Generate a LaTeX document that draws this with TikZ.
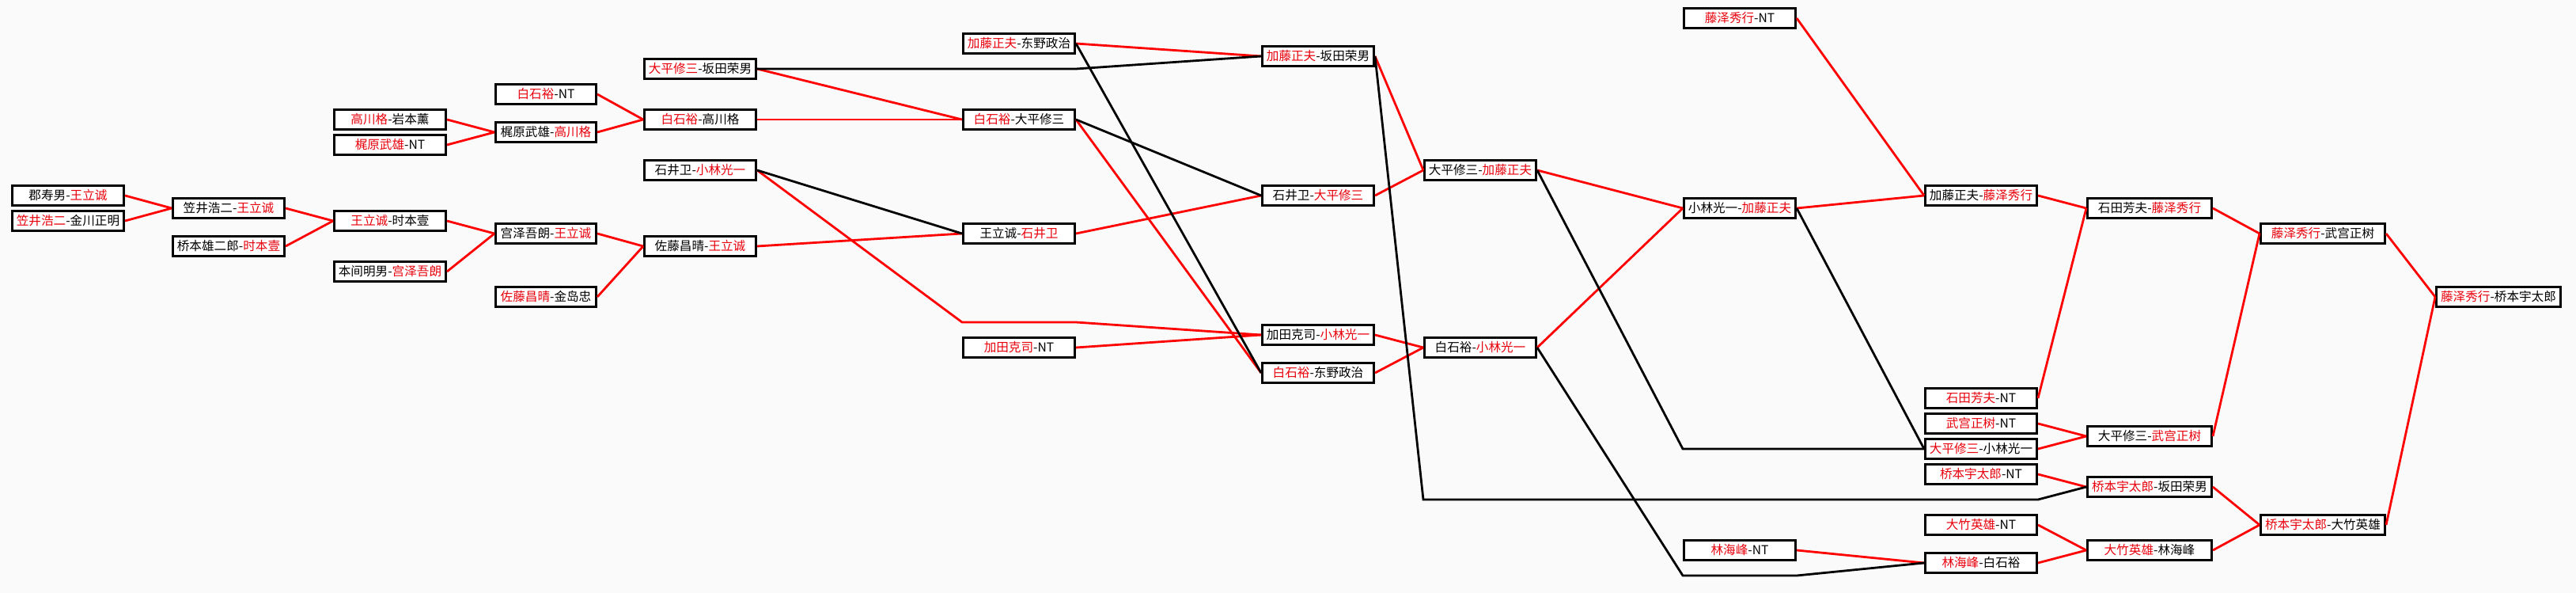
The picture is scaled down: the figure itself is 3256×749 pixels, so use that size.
\documentclass[tikz,border=0pt]{standalone}
\usepackage{fontspec}
\newfontfamily\cjk{Noto Sans CJK SC}
\usepackage{tikz}
\usetikzlibrary{calc}
\usepackage{xcolor}
\definecolor{pagebg}{HTML}{FAFAFA}
\definecolor{winred}{HTML}{E8000B}
\definecolor{wirered}{HTML}{FF0000}
\tikzset{
  game/.style   = {draw, line width=1.5pt, fill=white, rectangle,
                   minimum height=12.5pt, minimum width=70.5pt,
                   inner sep=0pt, align=center,
                   font=\cjk\fontsize{7.8}{9}\selectfont},
  narrow/.style = {minimum width=63.5pt},
  wide/.style   = {minimum width=78.5pt},
  won/.style    = {draw=wirered, line width=1.4pt},
  lost/.style   = {draw=black, line width=1.4pt},
}
\newcommand{\win}[1]{\textcolor{winred}{#1}}

\begin{document}
\begin{tikzpicture}[x=0.5pt,y=-0.5pt]
\fill[pagebg] (0,0) rectangle (3256,749);
\useasboundingbox (0,0) rectangle (3256,749);
% ---- round 1 ----
\node[game] (a1) at (86,247) {郡寿男-\win{王立诚}};
\node[game] (a2) at (86,279) {\win{笠井浩二}-金川正明};
% ---- round 2 ----
\node[game] (b1) at (289,263) {笠井浩二-\win{王立诚}};
\node[game] (b2) at (289,311) {桥本雄二郎-\win{时本壹}};
% ---- round 3 ----
\node[game] (c1) at (493,151) {\win{高川格}-岩本薰};
\node[game] (c2) at (493,183) {\win{梶原武雄}-NT};
\node[game] (c3) at (493,279) {\win{王立诚}-时本壹};
\node[game] (c4) at (493,343) {本间明男-\win{宫泽吾朗}};
% ---- round 4 ----
\node[game,narrow] (d1) at (690,119) {\win{白石裕}-NT};
\node[game,narrow] (d2) at (690,167) {梶原武雄-\win{高川格}};
\node[game,narrow] (d3) at (690,295) {宫泽吾朗-\win{王立诚}};
\node[game,narrow] (d4) at (690,375) {\win{佐藤昌晴}-金岛忠};
% ---- round 5 ----
\node[game] (e1) at (885,87) {\win{大平修三}-坂田荣男};
\node[game] (e2) at (885,151) {\win{白石裕}-高川格};
\node[game] (e3) at (885,215) {石井卫-\win{小林光一}};
\node[game] (e4) at (885,311) {佐藤昌晴-\win{王立诚}};
% ---- round 6 ----
\node[game] (f1) at (1288,55) {\win{加藤正夫}-东野政治};
\node[game] (f2) at (1288,151) {\win{白石裕}-大平修三};
\node[game] (f3) at (1288,295) {王立诚-\win{石井卫}};
\node[game] (f4) at (1288,439) {\win{加田克司}-NT};
% ---- round 7 ----
\node[game] (g1) at (1666,71) {\win{加藤正夫}-坂田荣男};
\node[game] (g2) at (1666,247) {石井卫-\win{大平修三}};
\node[game] (g3) at (1666,423) {加田克司-\win{小林光一}};
\node[game] (g4) at (1666,471) {\win{白石裕}-东野政治};
% ---- round 8 ----
\node[game] (h1) at (1871,215) {大平修三-\win{加藤正夫}};
\node[game] (h2) at (1871,439) {白石裕-\win{小林光一}};
% ---- round 9 ----
\node[game] (i1) at (2199,23) {\win{藤泽秀行}-NT};
\node[game] (i2) at (2199,263) {小林光一-\win{加藤正夫}};
\node[game] (i3) at (2199,695) {\win{林海峰}-NT};
% ---- round 10 ----
\node[game] (j1) at (2504,247) {加藤正夫-\win{藤泽秀行}};
\node[game] (j2) at (2504,503) {\win{石田芳夫}-NT};
\node[game] (j3) at (2504,535) {\win{武宫正树}-NT};
\node[game] (j4) at (2504,567) {\win{大平修三}-小林光一};
\node[game] (j5) at (2504,599) {\win{桥本宇太郎}-NT};
\node[game] (j6) at (2504,663) {\win{大竹英雄}-NT};
\node[game] (j7) at (2504,711) {\win{林海峰}-白石裕};
% ---- semifinal / final ----
\node[game,wide] (k1) at (2717,263) {石田芳夫-\win{藤泽秀行}};
\node[game,wide] (k2) at (2717,551) {大平修三-\win{武宫正树}};
\node[game,wide] (k3) at (2717,615) {\win{桥本宇太郎}-坂田荣男};
\node[game,wide] (k4) at (2717,695) {\win{大竹英雄}-林海峰};
\node[game,wide] (l1) at (2936,295) {\win{藤泽秀行}-武宫正树};
\node[game,wide] (l2) at (2936,663) {\win{桥本宇太郎}-大竹英雄};
\node[game,wide] (m1) at (3158,375) {\win{藤泽秀行}-桥本宇太郎};
% ---- bend points of the long connectors ----
\coordinate (v1) at (f1.east |- e1.east);
\coordinate (v2) at ($(f4.west)+(0,-32)$);
\coordinate (v3) at ($(f4.east)+(0,-32)$);
\coordinate (v4) at ($(h1.west |- k3.west)+(0,16)$);
\coordinate (v5) at ($(j5.east |- k3.west)+(0,16)$);
\coordinate (v6) at (i2.west |- j4.west);
\coordinate (v7) at ($(i3.west)+(0,32)$);
\coordinate (v8) at ($(i3.east)+(0,32)$);
% ---- winners (red) ----
\draw[won] (a1.east) -- (b1.west);  \draw[won] (a2.east) -- (b1.west);
\draw[won] (b1.east) -- (c3.west);  \draw[won] (b2.east) -- (c3.west);
\draw[won] (c1.east) -- (d2.west);  \draw[won] (c2.east) -- (d2.west);
\draw[won] (c3.east) -- (d3.west);  \draw[won] (c4.east) -- (d3.west);
\draw[won] (d1.east) -- (e2.west);  \draw[won] (d2.east) -- (e2.west);
\draw[won] (d3.east) -- (e4.west);  \draw[won] (d4.east) -- (e4.west);
\draw[won] (e1.east) -- (f2.west);  \draw[won] (e2.east) -- (f2.west);
\draw[won] (e4.east) -- (f3.west);
\draw[won] (e3.east) -- (v2) -- (v3) -- (g3.west);
\draw[won] (f4.east) -- (g3.west);
\draw[won] (f1.east) -- (g1.west);  \draw[won] (f2.east) -- (g4.west);
\draw[won] (f3.east) -- (g2.west);
\draw[won] (g1.east) -- (h1.west);  \draw[won] (g2.east) -- (h1.west);
\draw[won] (g3.east) -- (h2.west);  \draw[won] (g4.east) -- (h2.west);
\draw[won] (h1.east) -- (i2.west);  \draw[won] (h2.east) -- (i2.west);
\draw[won] (i1.east) -- (j1.west);  \draw[won] (i2.east) -- (j1.west);
\draw[won] (i3.east) -- (j7.west);
\draw[won] (j1.east) -- (k1.west);  \draw[won] (j2.east) -- (k1.west);
\draw[won] (j3.east) -- (k2.west);  \draw[won] (j4.east) -- (k2.west);
\draw[won] (j5.east) -- (k3.west);
\draw[won] (j6.east) -- (k4.west);  \draw[won] (j7.east) -- (k4.west);
\draw[won] (k1.east) -- (l1.west);  \draw[won] (k2.east) -- (l1.west);
\draw[won] (k3.east) -- (l2.west);  \draw[won] (k4.east) -- (l2.west);
\draw[won] (l1.east) -- (m1.west);  \draw[won] (l2.east) -- (m1.west);
% ---- losers dropping down (black) ----
\draw[lost] (e1.east) -- (v1) -- (g1.west);
\draw[lost] (e3.east) -- (f3.west);
\draw[lost] (f1.east) -- (g4.west);
\draw[lost] (f2.east) -- (g2.west);
\draw[lost] (g1.east) -- (v4) -- (v5) -- (k3.west);
\draw[lost] (h1.east) -- (v6) -- (j4.west);
\draw[lost] (h2.east) -- (v7) -- (v8) -- (j7.west);
\draw[lost] (i2.east) -- (j4.west);
\end{tikzpicture}
\end{document}
